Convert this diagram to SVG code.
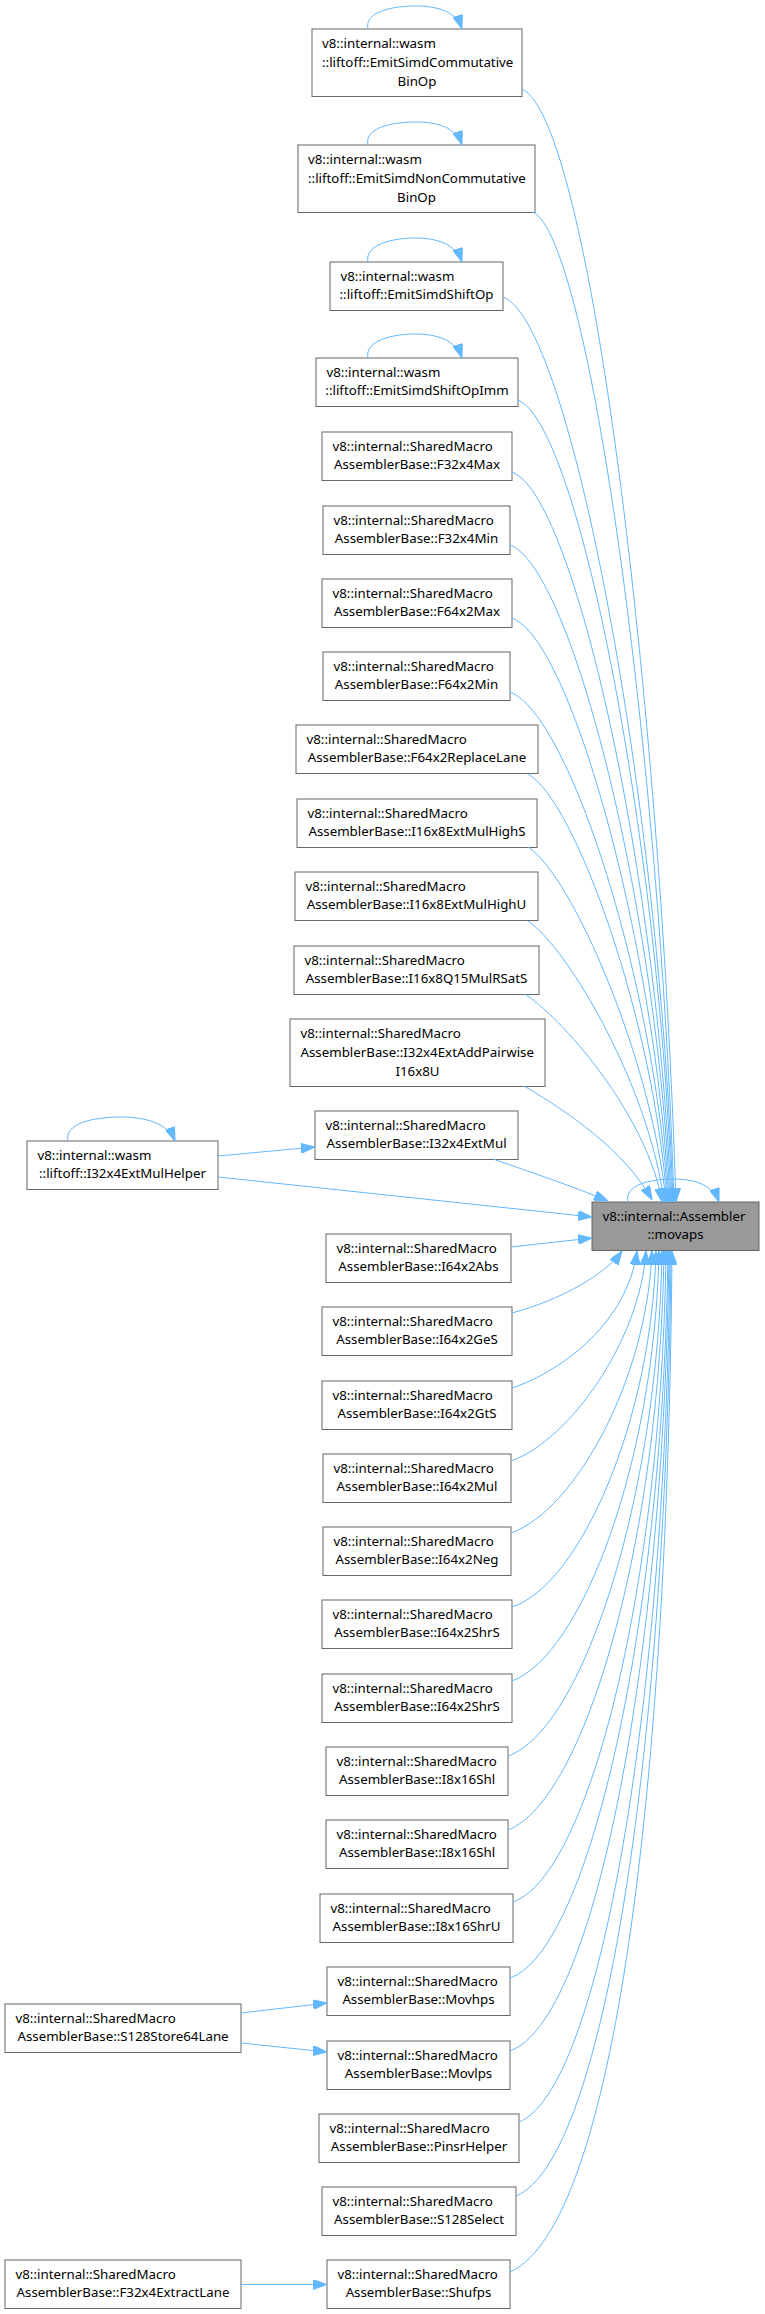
<svg xmlns="http://www.w3.org/2000/svg" width="765" height="2314" viewBox="0 0 765 2314">
<style>
.node rect{fill:#ffffff;stroke:#666666;stroke-width:1}
.hl rect{fill:#999999}
text{font-family:"Noto Sans","DejaVu Sans",sans-serif;font-size:13.3px;fill:#000000}
.c{text-anchor:middle}
#edges path{fill:none;stroke:#63b8ff;stroke-width:1;marker-end:url(#ah)}
</style>
<defs>
<marker id="ah" markerUnits="userSpaceOnUse" markerWidth="14" markerHeight="10" refX="14" refY="5" orient="auto" viewBox="0 0 14 10">
<path d="M0,0 L14,5 L0,10 z" fill="#63b8ff" stroke="#63b8ff" stroke-width="1"/>
</marker>
</defs>
<rect width="765" height="2314" fill="#ffffff"/>

<g id="n1" class="node"><rect x="312" y="29" width="210" height="67.5"/><text x="322" y="47.5">v8::internal::wasm</text><text x="322" y="66.5">::liftoff::EmitSimdCommutative</text><text class="c" x="417" y="85.5">BinOp</text></g>
<g id="n2" class="node"><rect x="298" y="145" width="237" height="67.5"/><text x="308" y="163.5">v8::internal::wasm</text><text x="308" y="182.5">::liftoff::EmitSimdNonCommutative</text><text class="c" x="416.5" y="201.5">BinOp</text></g>
<g id="n3" class="node"><rect x="330" y="262" width="173" height="48.5"/><text x="340.5" y="280.7">v8::internal::wasm</text><text class="c" x="416.5" y="299.2">::liftoff::EmitSimdShiftOp</text></g>
<g id="n4" class="node"><rect x="316" y="358" width="202" height="48.5"/><text x="326.5" y="376.7">v8::internal::wasm</text><text class="c" x="417" y="395.2">::liftoff::EmitSimdShiftOpImm</text></g>
<g id="n5" class="node"><rect x="322" y="432" width="190" height="48.5"/><text x="332.5" y="450.7">v8::internal::SharedMacro</text><text class="c" x="417" y="469.2">AssemblerBase::F32x4Max</text></g>
<g id="n6" class="node"><rect x="323" y="506" width="187" height="48.5"/><text x="333.5" y="524.7">v8::internal::SharedMacro</text><text class="c" x="416.5" y="543.2">AssemblerBase::F32x4Min</text></g>
<g id="n7" class="node"><rect x="322" y="579" width="190" height="48.5"/><text x="332.5" y="597.7">v8::internal::SharedMacro</text><text class="c" x="417" y="616.2">AssemblerBase::F64x2Max</text></g>
<g id="n8" class="node"><rect x="323" y="652" width="187" height="48.5"/><text x="333.5" y="670.7">v8::internal::SharedMacro</text><text class="c" x="416.5" y="689.2">AssemblerBase::F64x2Min</text></g>
<g id="n9" class="node"><rect x="296" y="725" width="242" height="48.5"/><text x="306.5" y="743.7">v8::internal::SharedMacro</text><text class="c" x="417" y="762.2">AssemblerBase::F64x2ReplaceLane</text></g>
<g id="n10" class="node"><rect x="297" y="799" width="240" height="48.5"/><text x="307.5" y="817.7">v8::internal::SharedMacro</text><text class="c" x="417" y="836.2">AssemblerBase::I16x8ExtMulHighS</text></g>
<g id="n11" class="node"><rect x="295" y="872" width="243" height="48.5"/><text x="305.5" y="890.7">v8::internal::SharedMacro</text><text class="c" x="416.5" y="909.2">AssemblerBase::I16x8ExtMulHighU</text></g>
<g id="n12" class="node"><rect x="294" y="946" width="245" height="48.5"/><text x="304.5" y="964.7">v8::internal::SharedMacro</text><text class="c" x="416.5" y="983.2">AssemblerBase::I16x8Q15MulRSatS</text></g>
<g id="n13" class="node"><rect x="290" y="1019" width="255" height="67.5"/><text x="300.5" y="1037.5">v8::internal::SharedMacro</text><text x="300.5" y="1056.5">AssemblerBase::I32x4ExtAddPairwise</text><text class="c" x="417.5" y="1075.5">I16x8U</text></g>
<g id="n14" class="node"><rect x="315" y="1111" width="203" height="48.5"/><text x="325.5" y="1129.7">v8::internal::SharedMacro</text><text class="c" x="416.5" y="1148.2">AssemblerBase::I32x4ExtMul</text></g>
<g id="movaps" class="node hl"><rect x="592" y="1202" width="167" height="48.5"/><text x="602.5" y="1220.7">v8::internal::Assembler</text><text class="c" x="675.5" y="1239.2">::movaps</text></g>
<g id="n16" class="node"><rect x="326" y="1234" width="185" height="48.5"/><text x="336.5" y="1252.7">v8::internal::SharedMacro</text><text class="c" x="418.5" y="1271.2">AssemblerBase::I64x2Abs</text></g>
<g id="n17" class="node"><rect x="322" y="1307" width="190" height="48.5"/><text x="332.5" y="1325.7">v8::internal::SharedMacro</text><text class="c" x="417" y="1344.2">AssemblerBase::I64x2GeS</text></g>
<g id="n18" class="node"><rect x="322" y="1381" width="190" height="48.5"/><text x="332.5" y="1399.7">v8::internal::SharedMacro</text><text class="c" x="417" y="1418.2">AssemblerBase::I64x2GtS</text></g>
<g id="n19" class="node"><rect x="323" y="1454" width="188" height="48.5"/><text x="333.5" y="1472.7">v8::internal::SharedMacro</text><text class="c" x="417" y="1491.2">AssemblerBase::I64x2Mul</text></g>
<g id="n20" class="node"><rect x="323" y="1527" width="188" height="48.5"/><text x="333.5" y="1545.7">v8::internal::SharedMacro</text><text class="c" x="417" y="1564.2">AssemblerBase::I64x2Neg</text></g>
<g id="n21" class="node"><rect x="322" y="1600" width="190" height="48.5"/><text x="332.5" y="1618.7">v8::internal::SharedMacro</text><text class="c" x="417" y="1637.2">AssemblerBase::I64x2ShrS</text></g>
<g id="n22" class="node"><rect x="322" y="1674" width="190" height="48.5"/><text x="332.5" y="1692.7">v8::internal::SharedMacro</text><text class="c" x="417" y="1711.2">AssemblerBase::I64x2ShrS</text></g>
<g id="n23" class="node"><rect x="326" y="1747" width="182" height="48.5"/><text x="336.5" y="1765.7">v8::internal::SharedMacro</text><text class="c" x="417" y="1784.2">AssemblerBase::I8x16Shl</text></g>
<g id="n24" class="node"><rect x="326" y="1820" width="182" height="48.5"/><text x="336.5" y="1838.7">v8::internal::SharedMacro</text><text class="c" x="417" y="1857.2">AssemblerBase::I8x16Shl</text></g>
<g id="n25" class="node"><rect x="320" y="1894" width="193" height="48.5"/><text x="330.5" y="1912.7">v8::internal::SharedMacro</text><text class="c" x="416.5" y="1931.2">AssemblerBase::I8x16ShrU</text></g>
<g id="n26" class="node"><rect x="327" y="1967" width="183" height="48.5"/><text x="337.5" y="1985.7">v8::internal::SharedMacro</text><text class="c" x="418.5" y="2004.2">AssemblerBase::Movhps</text></g>
<g id="n27" class="node"><rect x="327" y="2041" width="183" height="48.5"/><text x="337.5" y="2059.7">v8::internal::SharedMacro</text><text class="c" x="418.5" y="2078.2">AssemblerBase::Movlps</text></g>
<g id="n28" class="node"><rect x="319" y="2114" width="200" height="48.5"/><text x="329.5" y="2132.7">v8::internal::SharedMacro</text><text class="c" x="419" y="2151.2">AssemblerBase::PinsrHelper</text></g>
<g id="n29" class="node"><rect x="322" y="2187" width="194" height="48.5"/><text x="332.5" y="2205.7">v8::internal::SharedMacro</text><text class="c" x="419" y="2224.2">AssemblerBase::S128Select</text></g>
<g id="n30" class="node"><rect x="327" y="2260" width="183" height="48.5"/><text x="337.5" y="2278.7">v8::internal::SharedMacro</text><text class="c" x="418.5" y="2297.2">AssemblerBase::Shufps</text></g>
<g id="helper" class="node"><rect x="27" y="1141" width="191" height="48.5"/><text x="37.5" y="1159.7">v8::internal::wasm</text><text class="c" x="122.5" y="1178.2">::liftoff::I32x4ExtMulHelper</text></g>
<g id="store64" class="node"><rect x="5" y="2004" width="236" height="48.5"/><text x="15.5" y="2022.7">v8::internal::SharedMacro</text><text class="c" x="123" y="2041.2">AssemblerBase::S128Store64Lane</text></g>
<g id="extract" class="node"><rect x="5" y="2260" width="236" height="48.5"/><text x="15.5" y="2278.7">v8::internal::SharedMacro</text><text class="c" x="123" y="2297.2">AssemblerBase::F32x4ExtractLane</text></g>

<g id="edges">
<path d="M368,29 C364,12 392,6 415,6 C437,6 456,11 462,29"/>
<path d="M368,145 C364,128 392,122 415,122 C437,122 456,127 462,145"/>
<path d="M368,262 C364,245 392,238 415,238 C437,238 456,244 462,262"/>
<path d="M368,358 C364,341 392,334 415,334 C437,334 456,340 462,358"/>
<path d="M68,1141 C64,1124 92,1117 121,1117 C145,1117 168,1123 175,1141"/>
<path d="M628,1202 C624,1185 650,1179 673,1179 C695,1179 713,1185 719,1202"/>
<path d="M522,89 C590,120 660,700 676,1202"/>
<path d="M533,212 C590,240 660,760 674,1202"/>
<path d="M503,297 C570,320 660,800 673,1202"/>
<path d="M518,400 C580,425 660,850 672,1202"/>
<path d="M512,472 C575,495 658,880 671,1202"/>
<path d="M510,545 C572,568 657,910 670,1202"/>
<path d="M512,618 C572,640 656,950 669,1202"/>
<path d="M510,692 C570,715 655,985 668,1202"/>
<path d="M528,774 C575,800 654,1020 667,1202"/>
<path d="M528,847 C572,875 652,1060 666,1202"/>
<path d="M528,921 C570,950 650,1090 664,1202"/>
<path d="M525,994 C570,1025 648,1120 662,1202"/>
<path d="M524,1086 C565,1110 625,1150 652,1200"/>
<path d="M493,1159 C530,1172 575,1187 608,1201"/>
<path d="M218,1156 L315,1147"/>
<path d="M218,1177 L592,1217"/>
<path d="M511,1247 L592,1238"/>
<path d="M512,1313 C560,1300 605,1275 622,1251"/>
<path d="M512,1388 C565,1370 628,1320 637,1251"/>
<path d="M511,1461 C570,1440 640,1340 646,1251"/>
<path d="M511,1533 C575,1510 647,1380 652,1251"/>
<path d="M512,1607 C580,1585 652,1420 656,1251"/>
<path d="M512,1681 C582,1655 655,1460 659,1251"/>
<path d="M508,1756 C582,1730 658,1500 662,1251"/>
<path d="M508,1830 C585,1800 660,1540 664,1251"/>
<path d="M513,1902 C590,1875 662,1580 666,1251"/>
<path d="M510,1978 C590,1950 663,1620 668,1251"/>
<path d="M510,2051 C595,2020 664,1660 669,1251"/>
<path d="M519,2122 C600,2090 666,1700 670,1251"/>
<path d="M516,2196 C605,2160 667,1740 671,1251"/>
<path d="M510,2272 C615,2225 668,1780 672,1251"/>
<path d="M241,2013 L327,2003"/>
<path d="M241,2043 L327,2052"/>
<path d="M241,2284.5 L327,2284.5"/>
</g>
</svg>
